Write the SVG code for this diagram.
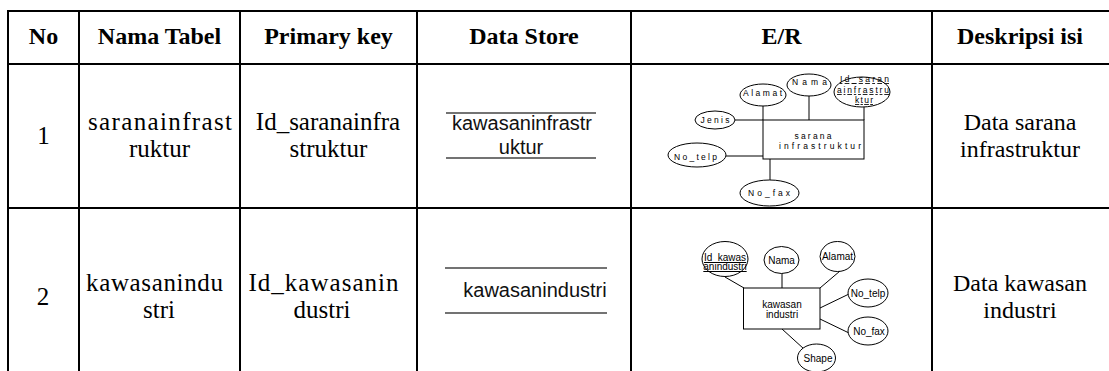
<svg xmlns="http://www.w3.org/2000/svg" width="1109" height="371" viewBox="0 0 1109 371">
<style>
.grid{stroke:#000;stroke-width:2;fill:none}
.hd{font-family:"Liberation Serif","Times New Roman",serif;font-weight:bold;font-size:24px;text-anchor:middle;fill:#000}
.tx{font-family:"Liberation Serif","Times New Roman",serif;font-size:25px;text-anchor:middle;fill:#000}
.tx2{font-family:"Liberation Serif","Times New Roman",serif;font-size:24px;text-anchor:middle;fill:#000}
.ds{font-family:"Liberation Sans",Arial,sans-serif;font-size:20px;text-anchor:middle;fill:#111}
.dsl{stroke:#444;stroke-width:1.3}
.er{fill:#fff;stroke:#000;stroke-width:1}
.ln{stroke:#000;stroke-width:1;fill:none}
.s1{font-family:"Liberation Sans",Arial,sans-serif;font-size:8.5px;fill:#000}
.s2{font-family:"Liberation Sans",Arial,sans-serif;font-size:10px;text-anchor:middle;fill:#000}
</style>
<rect width="1109" height="371" fill="#fff"/>
<g id="table">
<line class="grid" x1="7" y1="11" x2="1109" y2="11"/>
<line class="grid" x1="7" y1="64" x2="1109" y2="64"/>
<line class="grid" x1="7" y1="208" x2="1109" y2="208"/>
<line class="grid" x1="8" y1="10" x2="8" y2="371"/>
<line class="grid" x1="79" y1="10" x2="79" y2="371"/>
<line class="grid" x1="240" y1="10" x2="240" y2="371"/>
<line class="grid" x1="417" y1="10" x2="417" y2="371"/>
<line class="grid" x1="631" y1="10" x2="631" y2="371"/>
<line class="grid" x1="932" y1="10" x2="932" y2="371"/>
</g>
<g id="header">
<text class="hd" x="43.5" y="44">No</text>
<text class="hd" x="159.5" y="44">Nama Tabel</text>
<text class="hd" x="328.5" y="44">Primary key</text>
<text class="hd" x="524" y="44">Data Store</text>
<text class="hd" x="781.5" y="44">E/R</text>
<text class="hd" x="1020" y="44">Deskripsi isi</text>
</g>
<g id="row1">
<text class="tx" x="43.5" y="144">1</text>
<text class="tx" x="160" y="130" textLength="144" lengthAdjust="spacing">saranainfrast</text>
<text class="tx" x="159.5" y="157">ruktur</text>
<text class="tx" x="328" y="130">Id_saranainfra</text>
<text class="tx" x="328.5" y="157">struktur</text>
<text class="tx2" x="1020" y="130">Data sarana</text>
<text class="tx2" x="1020" y="157">infrastruktur</text>
</g>
<g id="datastore1">
<line class="dsl" x1="446" y1="113" x2="596" y2="113"/>
<line class="dsl" x1="446" y1="158" x2="596" y2="158"/>
<text class="ds" x="522" y="130">kawasaninfrastr</text>
<text class="ds" x="521" y="154">uktur</text>
</g>
<g id="row2">
<text class="tx" x="43" y="305">2</text>
<text class="tx" x="154.5" y="291" textLength="137" lengthAdjust="spacing">kawasanindu</text>
<text class="tx" x="159" y="318">stri</text>
<text class="tx" x="323.5" y="291" textLength="150" lengthAdjust="spacing">Id_kawasanin</text>
<text class="tx" x="322" y="318">dustri</text>
<text class="tx2" x="1020" y="291">Data kawasan</text>
<text class="tx2" x="1020" y="318">industri</text>
</g>
<g id="datastore2">
<line class="dsl" x1="445" y1="268" x2="607" y2="268"/>
<line class="dsl" x1="445" y1="313" x2="607" y2="313"/>
<text class="ds" x="535" y="297">kawasanindustri</text>
</g>
<g id="connectors">
<line class="ln" x1="735" y1="120" x2="763" y2="120"/>
<line class="ln" x1="763" y1="106" x2="763" y2="120"/>
<line class="ln" x1="809" y1="96" x2="809" y2="120"/>
<line class="ln" x1="864" y1="107" x2="864" y2="120"/>
<line class="ln" x1="726" y1="156" x2="763" y2="156"/>
<line class="ln" x1="770" y1="159" x2="770" y2="180" stroke-width="1.6" stroke="#333"/>
<line class="ln" x1="725" y1="277" x2="744" y2="288"/>
<line class="ln" x1="782" y1="273" x2="782" y2="288"/>
<line class="ln" x1="840" y1="271" x2="820" y2="288"/>
<line class="ln" x1="820" y1="308" x2="849" y2="294"/>
<line class="ln" x1="820" y1="319" x2="849" y2="333"/>
<line class="ln" x1="782" y1="329" x2="804" y2="349"/>
</g>
<g id="er1-entity">
<rect class="er" x="763" y="120" width="101" height="39"/>
<text class="s1" x="813" y="139" text-anchor="middle" textLength="37" lengthAdjust="spacing">sarana</text>
<text class="s1" x="820" y="149" text-anchor="middle" textLength="82" lengthAdjust="spacing">infrastruktur</text>
</g>
<g id="er1-alamat">
<ellipse class="er" cx="763" cy="95" rx="23" ry="11"/>
<text class="s1" x="743" y="95.5" textLength="39" lengthAdjust="spacing">Alamat</text>
</g>
<g id="er1-nama">
<ellipse class="er" cx="809" cy="85" rx="22" ry="11"/>
<text class="s1" x="792" y="85" textLength="35" lengthAdjust="spacing">Nama</text>
</g>
<g id="er1-id">
<ellipse class="er" cx="862" cy="92" rx="28" ry="15"/>
<text class="s1" x="840" y="82" textLength="49" lengthAdjust="spacing" text-decoration="underline">Id_saran</text>
<text class="s1" x="837" y="93" textLength="52" lengthAdjust="spacing" text-decoration="underline">ainfrastru</text>
<text class="s1" x="855" y="103" textLength="18" lengthAdjust="spacing" text-decoration="underline">ktur</text>
</g>
<g id="er1-jenis">
<ellipse class="er" cx="715" cy="120" rx="20" ry="9"/>
<text class="s1" x="700.5" y="122.5" textLength="29" lengthAdjust="spacing">Jenis</text>
</g>
<g id="er1-notelp">
<ellipse class="er" cx="697" cy="155" rx="29" ry="12"/>
<text class="s1" x="674" y="159.5" textLength="43" lengthAdjust="spacing">No_telp</text>
</g>
<g id="er1-nofax">
<ellipse class="er" cx="769.5" cy="193" rx="29.5" ry="13"/>
<text class="s1" x="748" y="195.5" textLength="42" lengthAdjust="spacing">No_fax</text>
</g>
<g id="er2-entity">
<rect class="er" x="743.5" y="288" width="76.5" height="41"/>
<text class="s2" x="782" y="307.5">kawasan</text>
<text class="s2" x="782" y="317.5">industri</text>
</g>
<g id="er2-id">
<ellipse class="er" cx="725" cy="259" rx="23" ry="17.5"/>
<text class="s2" x="725" y="261" text-decoration="underline">Id_kawas</text>
<text class="s2" x="725" y="270" text-decoration="underline">anindustri</text>
</g>
<g id="er2-nama">
<ellipse class="er" cx="781.5" cy="260" rx="17.5" ry="13.5"/>
<text class="s2" x="781.5" y="263.5">Nama</text>
</g>
<g id="er2-alamat">
<ellipse class="er" cx="837.5" cy="256.5" rx="17.5" ry="15"/>
<text class="s2" x="837.5" y="260">Alamat</text>
</g>
<g id="er2-notelp">
<ellipse class="er" cx="868" cy="293" rx="20" ry="14"/>
<text class="s2" x="868" y="296.5">No_telp</text>
</g>
<g id="er2-nofax">
<ellipse class="er" cx="868" cy="331" rx="20" ry="14"/>
<text class="s2" x="869" y="334.5">No_fax</text>
</g>
<g id="er2-shape">
<ellipse class="er" cx="816.5" cy="358" rx="19" ry="14"/>
<text class="s2" x="818" y="362">Shape</text>
</g>
</svg>
